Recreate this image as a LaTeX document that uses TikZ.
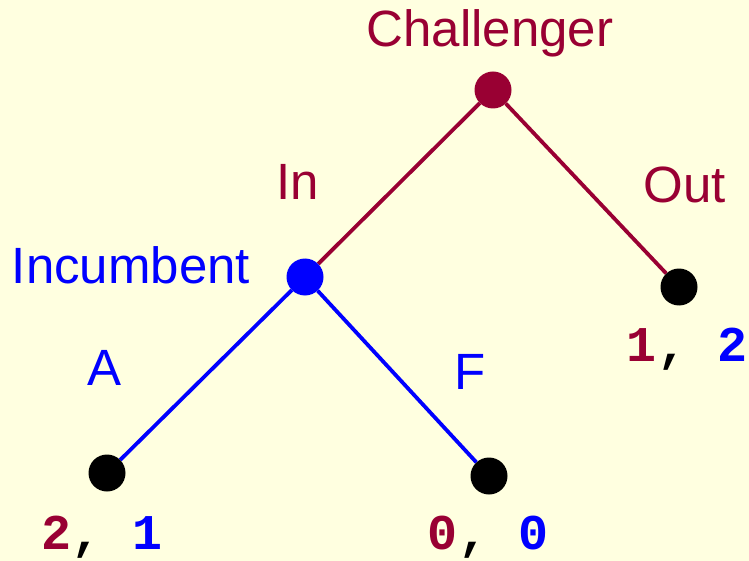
\documentclass[tikz,border=0pt]{standalone}
\usepackage{fontspec}
\setmainfont{Liberation Sans}
\newfontfamily\payfont[BoldFont={Liberation Mono Bold}]{Liberation Mono}
\definecolor{crim}{HTML}{990033}
\definecolor{bgyel}{HTML}{FFFFE0}
\begin{document}
\begin{tikzpicture}[x=1pt,y=-1pt,
  dot/.style={circle,fill=#1,inner sep=0pt,minimum size=37pt},
  lbl/.style={font=\fontsize{51}{56}\selectfont,text=#1,inner sep=0pt},
  pay/.style={font=\payfont\bfseries\fontsize{50}{56}\selectfont,inner sep=0pt},
  edge/.style={line width=3.8pt,draw=#1}]
\fill[bgyel] (0,0) rectangle (749,561);
\useasboundingbox (0,0) rectangle (749,561);
\node[dot=crim] (c) at (493,90) {};
\node[dot=blue] (i) at (305,277) {};
\node[dot=black] (o) at (679,287) {};
\node[dot=black] (a) at (107,473) {};
\node[dot=black] (f) at (489,476) {};
\draw[edge=crim] (c) -- (i);
\draw[edge=crim] (c) -- (o);
\draw[edge=blue] (i) -- (a);
\draw[edge=blue] (i) -- (f);
\node[lbl=crim] (tc) at (490,33) {Challenger};
\node[lbl=crim] (tin) at (298,182) {In};
\node[lbl=crim] (tout) at (685,185) {Out};
\node[lbl=blue] (tinc) at (131,265) {Incumbent};
\node[lbl=blue] (ta) at (105,368) {A};
\node[lbl=blue] (tf) at (470,372) {F};
\node[pay] (pa) at (102,537) {\textcolor{crim}{2}, \textcolor{blue}{1}};
\node[pay] (pf) at (488,537) {\textcolor{crim}{0}, \textcolor{blue}{0}};
\node[pay] (po) at (687,349) {\textcolor{crim}{1}, \textcolor{blue}{2}};
\end{tikzpicture}
\end{document}
